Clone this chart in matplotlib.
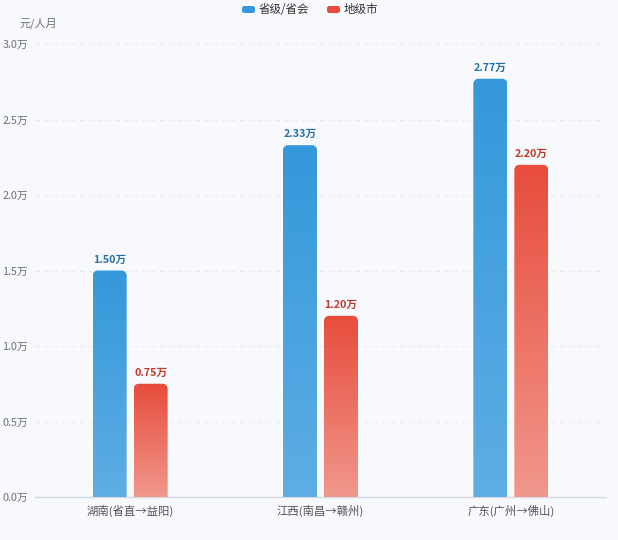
import matplotlib
matplotlib.use("Agg")
import matplotlib.pyplot as plt
import numpy as np
from matplotlib.path import Path
from matplotlib.patches import PathPatch, FancyBboxPatch
from matplotlib.colors import LinearSegmentedColormap

plt.rcParams['font.family'] = ['Noto Sans CJK SC', 'DejaVu Sans']

categories = ["湖南(省直→益阳)", "江西(南昌→赣州)", "广东(广州→佛山)"]
provincial = [1.50, 2.33, 2.77]
city = [0.75, 1.20, 2.20]
series_names = ["省级/省会", "地级市"]
yticks = [0.0, 0.5, 1.0, 1.5, 2.0, 2.5, 3.0]
ytick_labels = ["0.0万", "0.5万", "1.0万", "1.5万", "2.0万", "2.5万", "3.0万"]

bg = "#f8f9fc"
fig = plt.figure(figsize=(6.18, 5.40), dpi=100, facecolor=bg)
ax = fig.add_axes([35/618, 43/540, 571/618, 453/540])
ax.set_facecolor(bg)
ax.set_xlim(-0.5, 2.5)
ax.set_ylim(0, 3.0)

W, H = 571.0, 453.0

def rounded_top_path(x0, x1, y0, y1, rx, ry):
    k = 0.5523
    verts = [
        (x0, y0), (x0, y1 - ry),
        (x0, y1 - ry + k*ry), (x0 + rx - k*rx, y1), (x0 + rx, y1),
        (x1 - rx, y1),
        (x1 - rx + k*rx, y1), (x1, y1 - ry + k*ry), (x1, y1 - ry),
        (x1, y0), (x0, y0)
    ]
    codes = [Path.MOVETO, Path.LINETO,
             Path.CURVE4, Path.CURVE4, Path.CURVE4,
             Path.LINETO,
             Path.CURVE4, Path.CURVE4, Path.CURVE4,
             Path.LINETO, Path.CLOSEPOLY]
    return Path(verts, codes)

blue_cmap = LinearSegmentedColormap.from_list("b", ["#5eaee3", "#3498db"])
red_cmap = LinearSegmentedColormap.from_list("r", ["#f1978c", "#e74c3c"])

bw = 34 / (W / 3.0)
off = 20.5 / (W / 3.0)
rx = 5 / (W / 3.0)
ry = 5 / (H / 3.0)

x = np.arange(len(categories))
grad = np.linspace(0, 1, 256).reshape(-1, 1)

def draw_bars(xs, vals, cmap, label_color):
    bars = ax.bar(xs, vals, width=bw, color="none", edgecolor="none")
    for b, v in zip(bars, vals):
        x0 = b.get_x(); x1 = x0 + b.get_width(); y1 = b.get_height()
        path = rounded_top_path(x0, x1, 0, y1, rx, ry)
        edge = PathPatch(path, facecolor="none", edgecolor=(1, 1, 1, 0.6), lw=1.2, zorder=2)
        ax.add_patch(edge)
        clip = PathPatch(path, facecolor="none", edgecolor="none")
        ax.add_patch(clip)
        im = ax.imshow(grad, cmap=cmap, aspect="auto", origin="lower",
                       extent=[x0, x1, 0, y1], zorder=3)
        im.set_clip_path(clip)
        ax.text((x0 + x1) / 2, y1 + 6 * (3.0 / H), f"{v:.2f}万", ha="center", va="bottom",
                fontsize=7.7, fontweight="bold", color=label_color, zorder=4)

draw_bars(x - off, provincial, blue_cmap, "#2471a3")
draw_bars(x + off, city, red_cmap, "#c0392b")

ax.set_xlim(-0.5, 2.5)
ax.set_ylim(0, 3.0)
ax.set_yticks(yticks)
ax.set_yticklabels(ytick_labels)
ax.set_xticks(x)
ax.set_xticklabels(categories)
ax.tick_params(axis="y", length=0, labelsize=7.8, labelcolor="#6e7079", pad=5)
ax.tick_params(axis="x", length=0, labelsize=8.2, labelcolor="#555555", pad=6)
for s in ["top", "right", "left"]:
    ax.spines[s].set_visible(False)
ax.spines["bottom"].set_color("#d5d9e3")
ax.spines["bottom"].set_linewidth(1)
ax.yaxis.grid(True, linestyle=(0, (4, 4)), color="#e9ecf1", linewidth=0.8)
ax.set_axisbelow(True)
for gl in ax.get_ygridlines()[:1]:
    gl.set_visible(False)

fig.text(20/618, 1 - 23/540, "元/人月", fontsize=8, color="#6e7079", ha="left", va="center")

# legend
lx = [242, 327]
for i, (name, c) in enumerate(zip(series_names, ["#3498db", "#e74c3c"])):
    p = FancyBboxPatch(((lx[i]) / 618, 1 - 13/540), 13/618, 7/540,
                       boxstyle="round,pad=0,rounding_size=0.004", transform=fig.transFigure,
                       facecolor=c, edgecolor="none", figure=fig)
    fig.patches.append(p)
    fig.text((lx[i] + 17) / 618, 1 - 9.5/540, name, fontsize=8.3, color="#333333",
             ha="left", va="center")

fig.savefig("out.png", dpi=100, facecolor=bg)
